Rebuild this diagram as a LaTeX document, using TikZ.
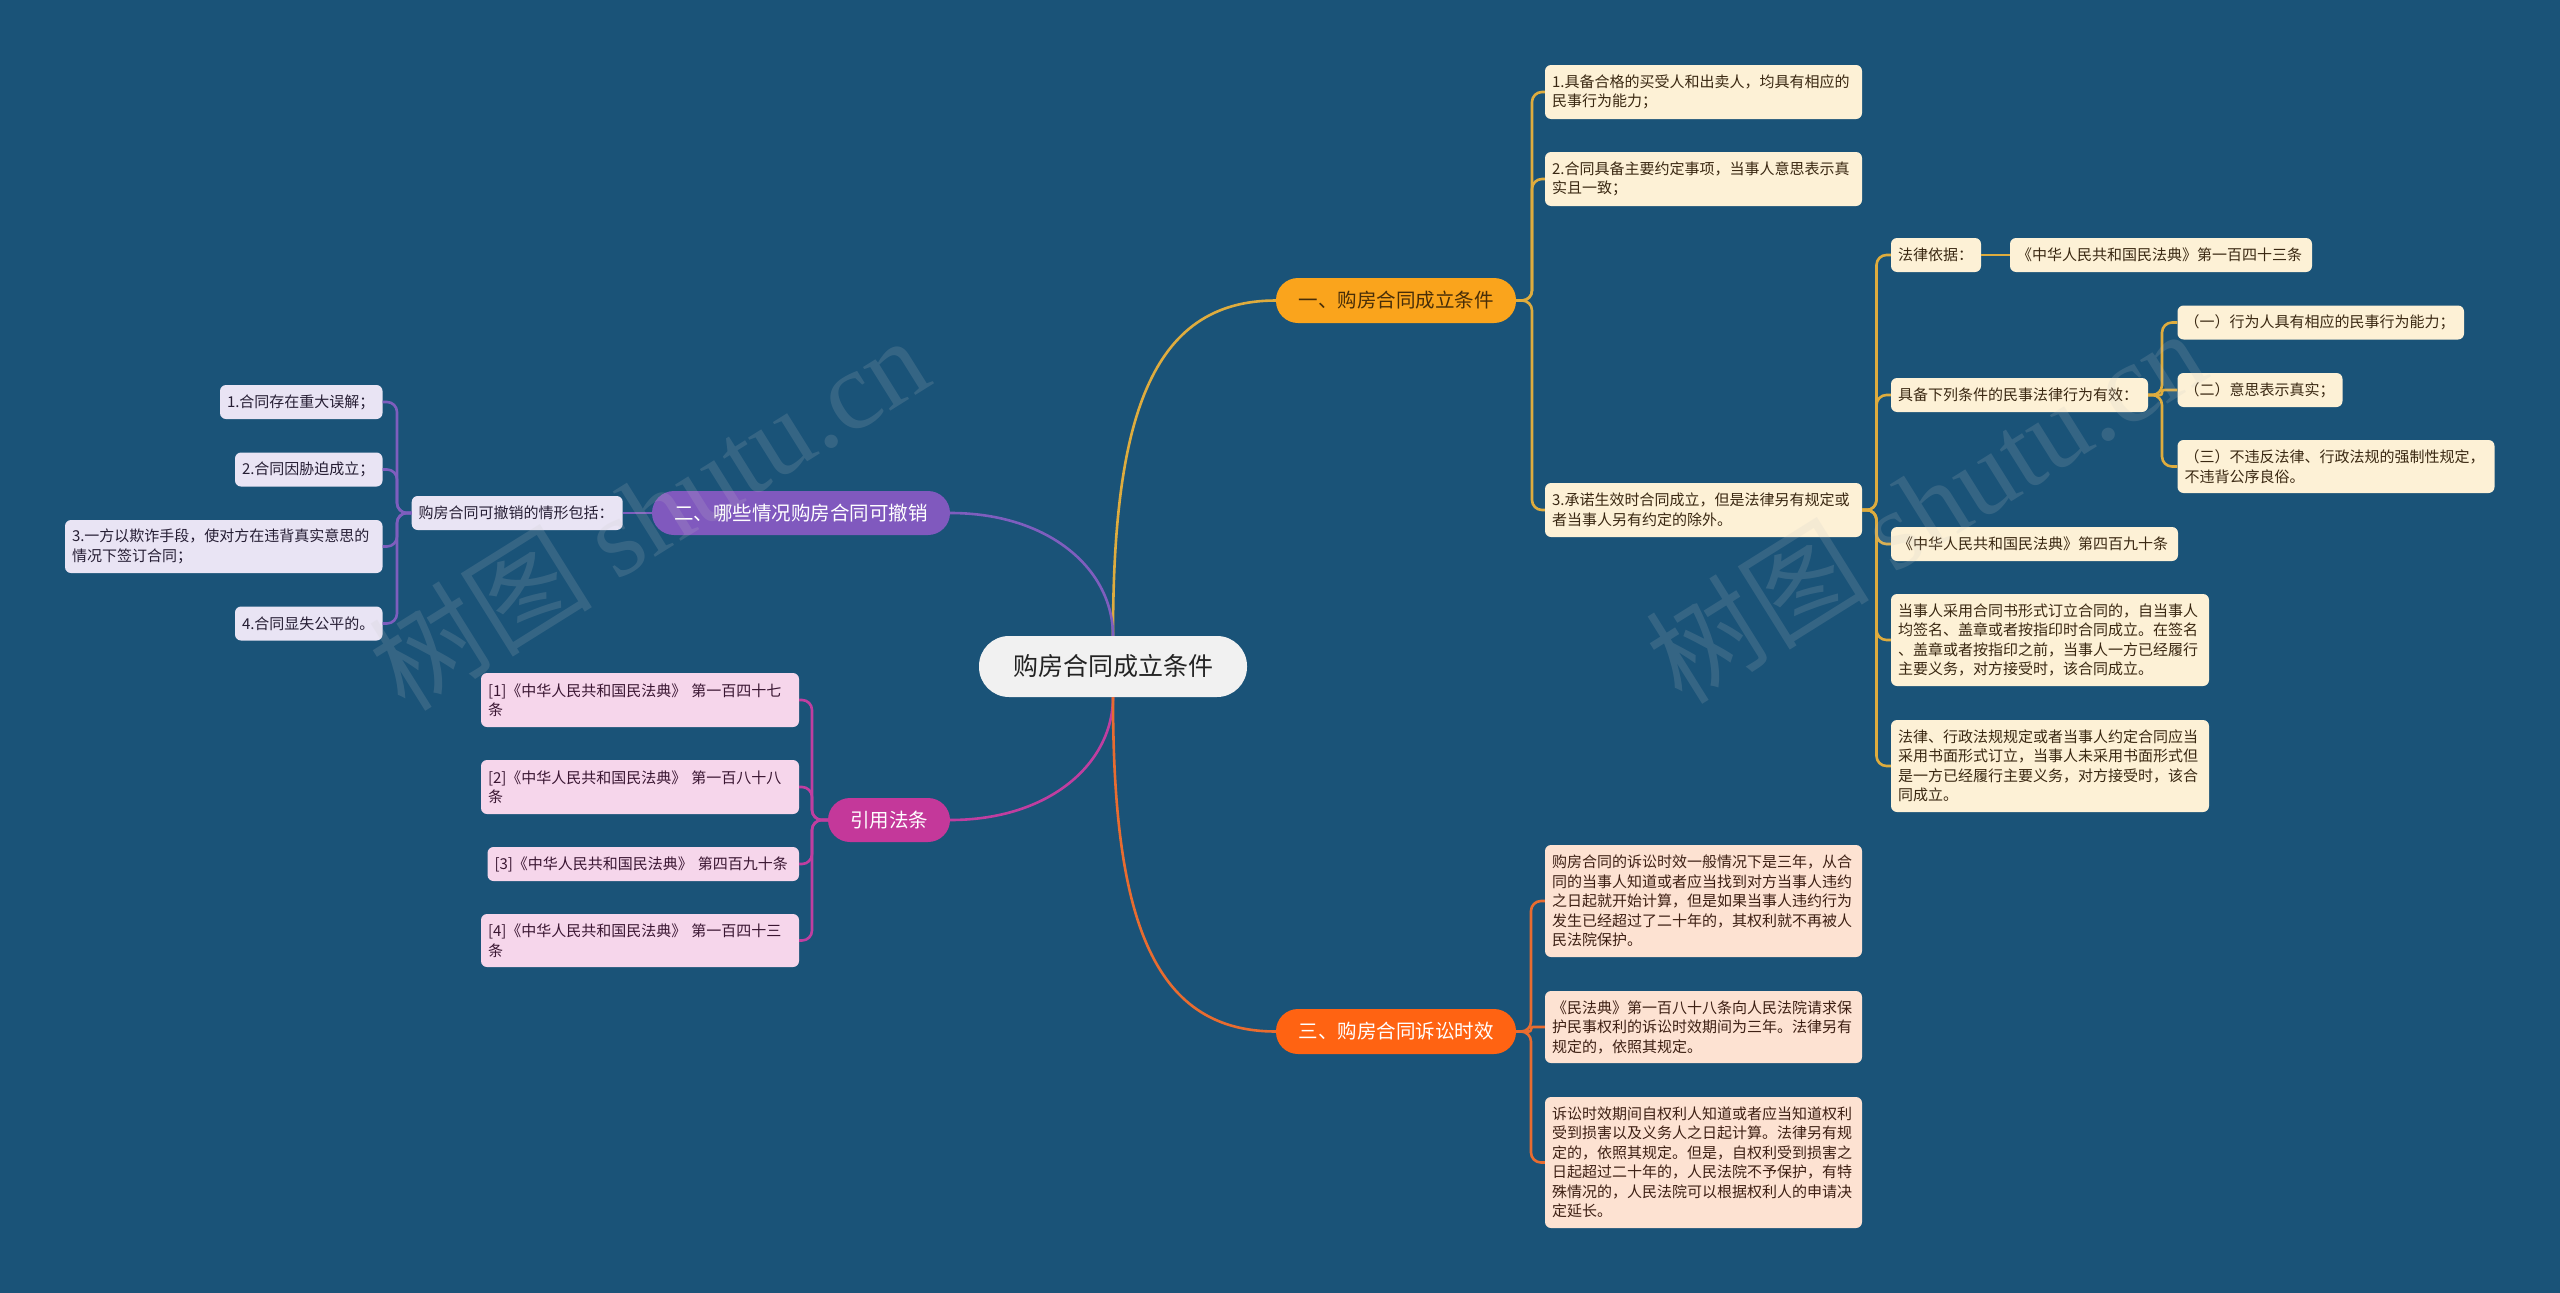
\documentclass[tikz,border=0pt]{standalone}
\usepackage{fontspec}
\setmainfont{Noto Sans CJK SC}
\newfontfamily\wmfont{Liberation Serif}
\definecolor{bg}{RGB}{26,83,120}
\definecolor{gline}{RGB}{222,172,62}
\definecolor{pline}{RGB}{126,94,190}
\definecolor{mline}{RGB}{192,62,160}
\definecolor{oline}{RGB}{232,108,48}
\definecolor{n1fill}{RGB}{250,164,28}
\definecolor{n1text}{RGB}{72,46,8}
\definecolor{n3fill}{RGB}{255,99,18}
\definecolor{n2fill}{RGB}{128,89,190}
\definecolor{n4fill}{RGB}{196,56,154}
\definecolor{rootfill}{RGB}{241,241,241}
\definecolor{roottext}{RGB}{35,35,35}
\definecolor{gfill}{RGB}{253,241,214}
\definecolor{gtext}{RGB}{58,40,18}
\definecolor{ofill}{RGB}{253,226,210}
\definecolor{otext}{RGB}{62,32,20}
\definecolor{pfill}{RGB}{233,228,244}
\definecolor{ptext}{RGB}{38,30,52}
\definecolor{mfill}{RGB}{246,214,235}
\definecolor{mtext}{RGB}{58,22,50}
\definecolor{wmc}{RGB}{200,200,200}
\begin{document}
\begin{tikzpicture}[x=1pt,y=-1pt,
  rootnode/.style={fill=rootfill,text=roottext,rounded corners=30pt,minimum width=268pt,minimum height=61pt,inner sep=0pt,font=\fontsize{25}{30}\selectfont},
  mainnode/.style={rounded corners=22pt,minimum height=45pt,inner sep=0pt,font=\fontsize{19.5}{24}\selectfont},
  leaf/.style={font=\fontsize{15}{19.5}\selectfont,align=left,inner xsep=7pt,inner ysep=0pt,rounded corners=6pt},
  gleaf/.style={leaf,fill=gfill,text=gtext},
  oleaf/.style={leaf,fill=ofill,text=otext},
  pleaf/.style={leaf,fill=pfill,text=ptext},
  mleaf/.style={leaf,fill=mfill,text=mtext},
  conn/.style={line width=2.6pt},
  gl/.style={conn,draw=gline},
  pl/.style={conn,draw=pline},
  ml/.style={conn,draw=mline},
  ol/.style={conn,draw=oline},
  tree/.style={rounded corners=10pt},
  treesmall/.style={rounded corners=2pt},
  wm/.style={text=wmc,opacity=0.16,font=\fontsize{112}{112}\selectfont}
]
\useasboundingbox (0,0) rectangle (2560,1293);
\fill[bg] (0,0) rectangle (2560,1293);

% root and main branches
\node[rootnode] (root) at (1113,666.5) {购房合同成立条件};
\node[mainnode,fill=n1fill,text=n1text,minimum width=240pt] (n1) at (1396,300.5) {一、购房合同成立条件};
\node[mainnode,fill=n3fill,text=white,minimum width=240pt] (n3) at (1396,1031.5) {三、购房合同诉讼时效};
\node[mainnode,fill=n2fill,text=white,minimum width=298pt,minimum height=44pt] (n2) at (801,513) {二、哪些情况购房合同可撤销};
\node[mainnode,fill=n4fill,text=white,minimum width=122pt,minimum height=44pt] (n4) at (889,820) {引用法条};

% branch one
\node[gleaf,minimum height=54pt,text width=303pt] (a1) at (1703.5,92) {1.具备合格的买受人和出卖人，均具有相应的\\民事行为能力；};
\node[gleaf,minimum height=54pt,text width=303pt] (a2) at (1703.5,179) {2.合同具备主要约定事项，当事人意思表示真\\实且一致；};
\node[gleaf,minimum height=54pt,text width=303pt] (a3) at (1703.5,510) {3.承诺生效时合同成立，但是法律另有规定或\\者当事人另有约定的除外。};
\node[gleaf,minimum height=34pt,text width=76pt] (b1) at (1936,255) {法律依据：};
\node[gleaf,minimum height=34pt,text width=288pt] (b1x) at (2161,255) {《中华人民共和国民法典》第一百四十三条};
\node[gleaf,minimum height=34pt,text width=243pt] (b2) at (2019.5,395) {具备下列条件的民事法律行为有效：};
\node[gleaf,minimum height=34pt,text width=272.5pt] (c1) at (2320.75,322.5) {（一）行为人具有相应的民事行为能力；};
\node[gleaf,minimum height=34pt,text width=151pt] (c2) at (2260,390) {（二）意思表示真实；};
\node[gleaf,minimum height=53pt,text width=303pt] (c3) at (2336,466.5) {（三）不违反法律、行政法规的强制性规定，\\不违背公序良俗。};
\node[gleaf,minimum height=34pt,text width=273pt] (b3) at (2034.5,544) {《中华人民共和国民法典》第四百九十条};
\node[gleaf,minimum height=92pt,text width=304pt] (b4) at (2050,640) {当事人采用合同书形式订立合同的，自当事人\\均签名、盖章或者按指印时合同成立。在签名\\、盖章或者按指印之前，当事人一方已经履行\\主要义务，对方接受时，该合同成立。};
\node[gleaf,minimum height=92pt,text width=304pt] (b5) at (2050,766) {法律、行政法规规定或者当事人约定合同应当\\采用书面形式订立，当事人未采用书面形式但\\是一方已经履行主要义务，对方接受时，该合\\同成立。};

% branch three
\node[oleaf,minimum height=112pt,text width=303pt] (d1) at (1703.5,901) {购房合同的诉讼时效一般情况下是三年，从合\\同的当事人知道或者应当找到对方当事人违约\\之日起就开始计算，但是如果当事人违约行为\\发生已经超过了二十年的，其权利就不再被人\\民法院保护。};
\node[oleaf,minimum height=72pt,text width=303pt] (d2) at (1703.5,1027) {《民法典》第一百八十八条向人民法院请求保\\护民事权利的诉讼时效期间为三年。法律另有\\规定的，依照其规定。};
\node[oleaf,minimum height=131pt,text width=303pt] (d3) at (1703.5,1162.5) {诉讼时效期间自权利人知道或者应当知道权利\\受到损害以及义务人之日起计算。法律另有规\\定的，依照其规定。但是，自权利受到损害之\\日起超过二十年的，人民法院不予保护，有特\\殊情况的，人民法院可以根据权利人的申请决\\定延长。};

% branch two
\node[pleaf,minimum height=34pt,text width=197pt] (e0) at (517.2,513) {购房合同可撤销的情形包括：};
\node[pleaf,minimum height=34pt,text width=148.5pt] (e1) at (301.25,402) {1.合同存在重大误解；};
\node[pleaf,minimum height=34pt,text width=133.5pt] (e2) at (308.75,469.5) {2.合同因胁迫成立；};
\node[pleaf,minimum height=53pt,text width=303.5pt] (e3) at (223.75,546.5) {3.一方以欺诈手段，使对方在违背真实意思的\\情况下签订合同；};
\node[pleaf,minimum height=34pt,text width=133.5pt] (e4) at (308.75,623.5) {4.合同显失公平的。};

% citations
\node[mleaf,minimum height=54pt,text width=304pt] (f1) at (640,700) {[1]《中华人民共和国民法典》~第一百四十七\\条};
\node[mleaf,minimum height=54pt,text width=304pt] (f2) at (640,787) {[2]《中华人民共和国民法典》~第一百八十八\\条};
\node[mleaf,minimum height=34pt,text width=297.5pt] (f3) at (643.25,864) {[3]《中华人民共和国民法典》~第四百九十条};
\node[mleaf,minimum height=53pt,text width=304pt] (f4) at (640,940.5) {[4]《中华人民共和国民法典》~第一百四十三\\条};

% connectors from root
\draw[gl] (root.north) .. controls (1113,420) and (1150,300.5) .. (n1.west);
\draw[pl] (root.north) .. controls (1113,570) and (1050,513) .. (n2.east);
\draw[ml] (root.south) .. controls (1113,763) and (1050,820) .. (n4.east);
\draw[ol] (root.south) .. controls (1113,913) and (1150,1031.5) .. (n3.west);

% tree connectors
\foreach \nn in {a1,a2,a3} \draw[gl,tree] (n1.east) -- (1532,300.5) |- (\nn.west);
\foreach \nn in {b1,b2,b3,b4,b5} \draw[gl,tree] (a3.east) -- (1876.5,510) |- (\nn.west);
\draw[gl] (b1.east) -- (b1x.west);
\foreach \nn in {c1,c3} \draw[gl,tree] (b2.east) -- (2162,395) |- (\nn.west);
\draw[gl,treesmall] (b2.east) -- (2162,395) |- (c2.west);
\foreach \nn in {d1,d3} \draw[ol,tree] (n3.east) -- (1531,1031.5) |- (\nn.west);
\draw[ol,treesmall] (n3.east) -- (1531,1031.5) |- (d2.west);
\draw[pl] (n2.west) -- (e0.east);
\foreach \nn in {e1,e2,e3,e4} \draw[pl,tree] (e0.west) -- (397,513) |- (\nn.east);
\foreach \nn in {f1,f2,f3,f4} \draw[ml,tree] (n4.west) -- (812,820) |- (\nn.east);

% watermarks
\node[wm,rotate=32] (wm1) at (648,512) {树图 {\wmfont shutu.cn}};
\node[wm,rotate=32] (wm2) at (1925,505) {树图 {\wmfont shutu.cn}};
\end{tikzpicture}
\end{document}
